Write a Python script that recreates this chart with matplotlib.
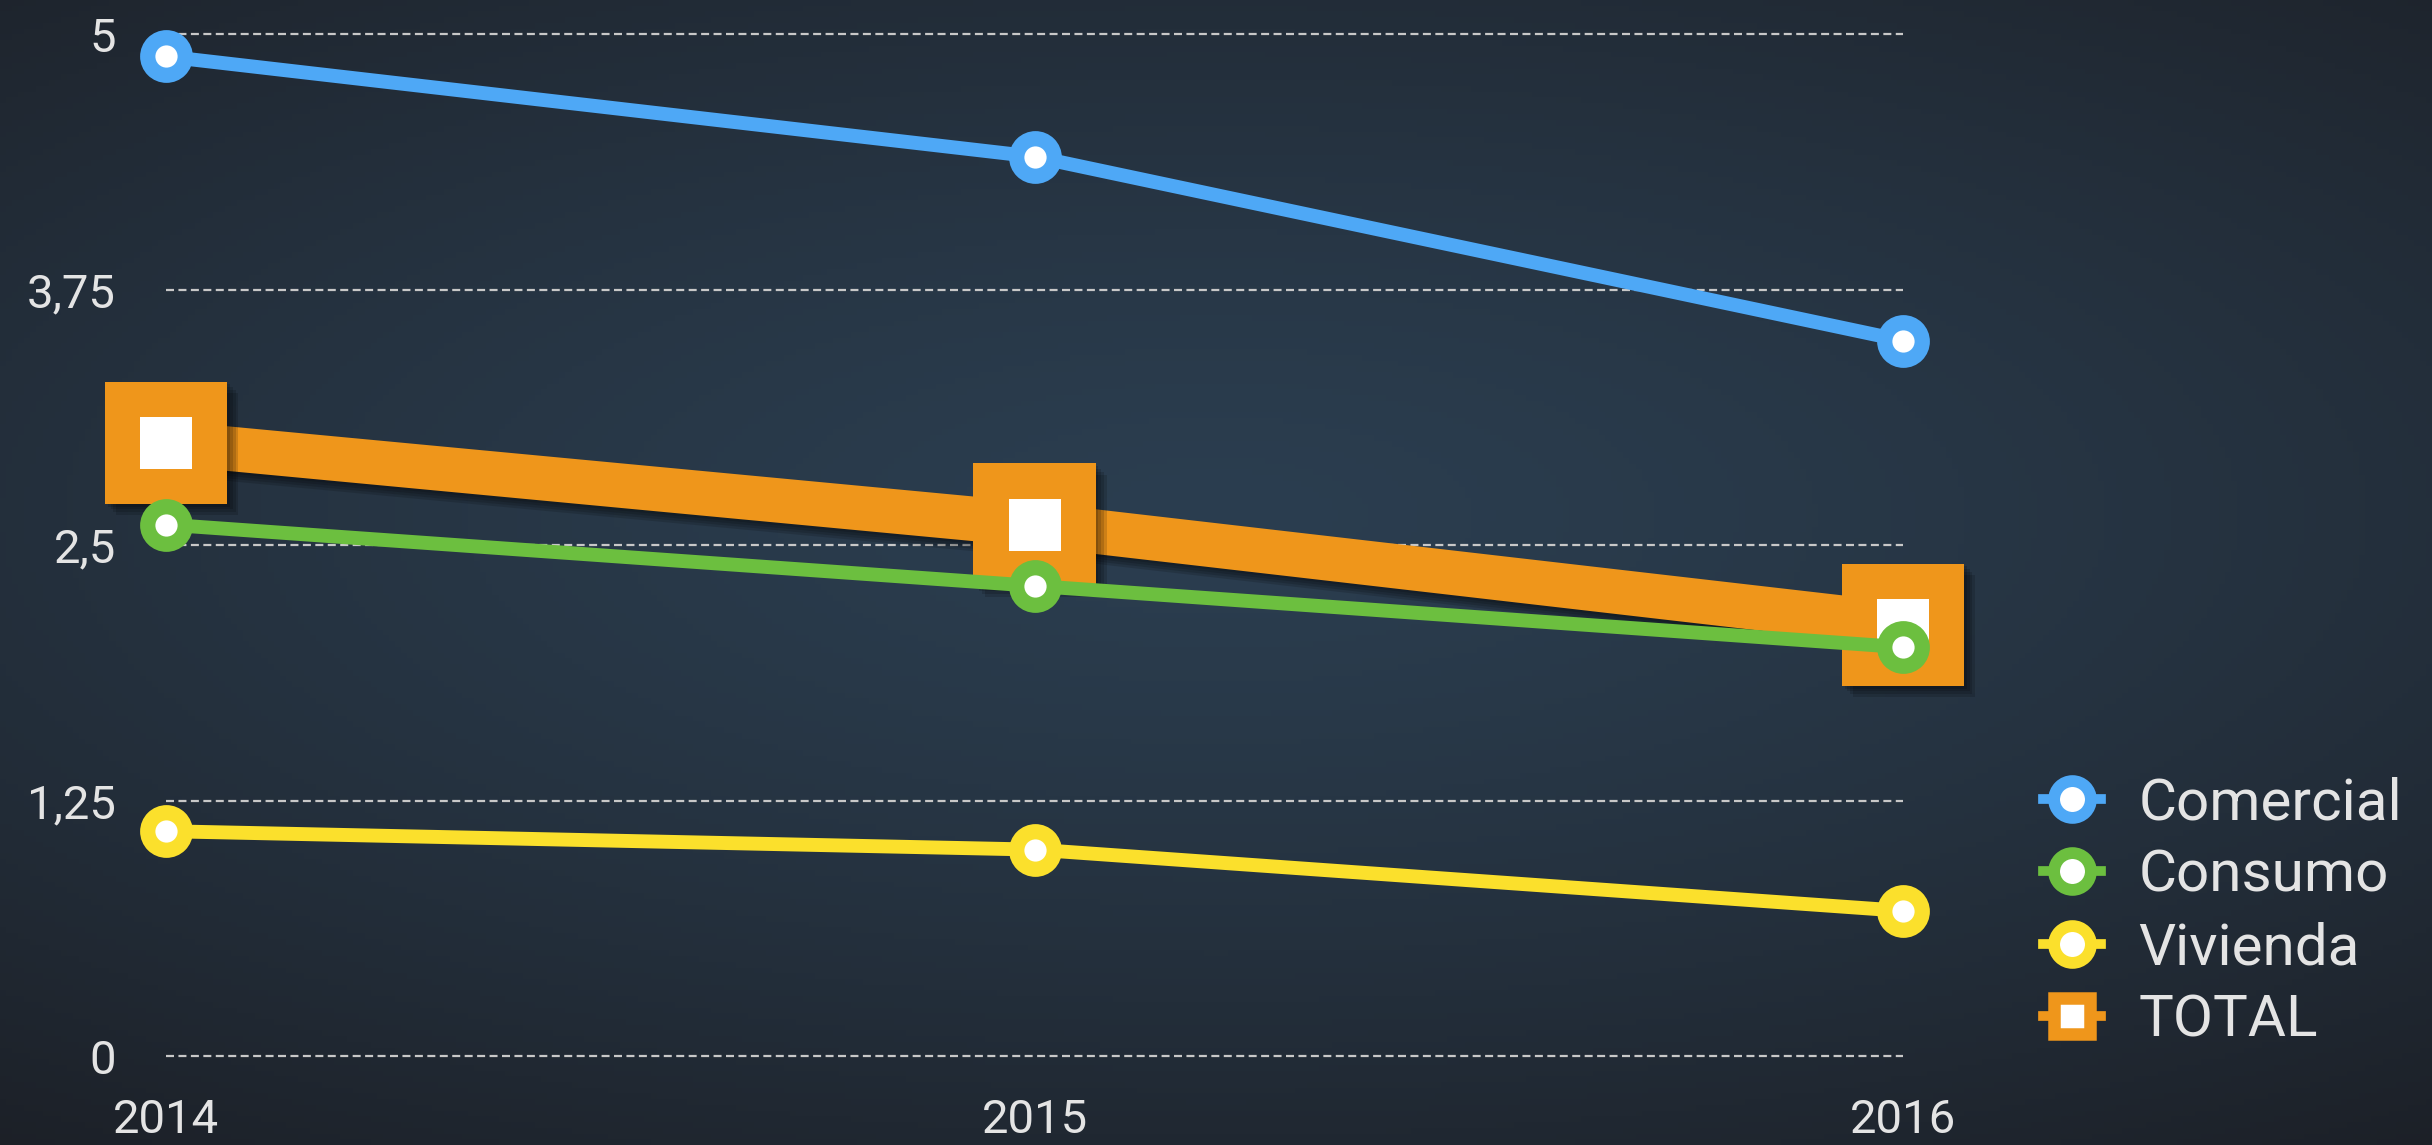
import numpy as np
import matplotlib.pyplot as plt
import matplotlib.patheffects as pe
from matplotlib.lines import Line2D

plt.rcParams['font.family'] = ['Roboto', 'DejaVu Sans']

# data
years = [2014, 2015, 2016]
comercial = [4.89, 4.40, 3.50]
consumo = [2.60, 2.30, 2.00]
vivienda = [1.10, 1.01, 0.71]
total = [3.00, 2.60, 2.11]
labels = ['Comercial', 'Consumo', 'Vivienda', 'TOTAL']
yticks = [0, 1.25, 2.5, 3.75, 5]
ytick_labels = ['0', '1,25', '2,5', '3,75', '5']

blue = '#4ea8f6'
green = '#6cbf3f'
yellow = '#fbe02c'
orange = '#ef961b'
txt = '#e4e4e4'

fig = plt.figure(figsize=(24.32, 11.45), dpi=100)

# background: dark vignette, bluer in the middle
bg = fig.add_axes([0, 0, 1, 1], zorder=-5)
gx, gy = np.meshgrid(np.linspace(-1, 1, 400), np.linspace(-1, 1, 200))
r = np.sqrt((gx * 0.85) ** 2 + ((gy + 0.1) * 1.05) ** 2)
t = np.clip(r / 1.45, 0, 1) ** 1.3
c_in = np.array([0x2b, 0x3e, 0x50]) / 255
c_out = np.array([0x1c, 0x20, 0x27]) / 255
img = c_in[None, None, :] * (1 - t[..., None]) + c_out[None, None, :] * t[..., None]
bg.imshow(img, aspect='auto', extent=[0, 1, 0, 1])
bg.axis('off')

ax = fig.add_axes([0.0683, 0.0777, 0.7142, 0.8926])
ax.set_facecolor('none')
ax.set_xlim(2014, 2016)
ax.set_ylim(0, 5)
for s in ax.spines.values():
    s.set_visible(False)

# dashed gridlines only across the data range
for v in yticks:
    ax.plot([2014, 2016], [v, v], color='#c8c8c8', lw=1.6, ls=(0, (3.6, 2)), zorder=1,
            clip_on=False)

# soft-ish shadow made of a few faint offset copies
line_shadow = [pe.SimpleLineShadow(offset=(k, -k), shadow_color='black', alpha=0.14)
               for k in (2, 4, 6, 8)] + [pe.Normal()]
sq_shadow = [pe.SimplePatchShadow(offset=(k, -k), shadow_rgbFace='black', alpha=0.14)
             for k in (2, 4, 6, 8)] + [pe.Normal()]

# TOTAL (drawn under the others)
ax.plot(years, total, color=orange, lw=32, solid_capstyle='butt', zorder=2,
        clip_on=False, path_effects=line_shadow)
ax.plot(years, total, ls='none', marker='s', ms=88, mfc=orange, mec=orange, mew=0,
        zorder=3, clip_on=False, path_effects=sq_shadow)
ax.plot(years, total, ls='none', marker='s', ms=37, mfc='white', mew=0, zorder=4,
        clip_on=False)

for vals, col in [(comercial, blue), (consumo, green), (vivienda, yellow)]:
    ax.plot(years, vals, color=col, lw=10, zorder=5, clip_on=False)
    ax.plot(years, vals, ls='none', marker='o', ms=38, mfc=col, mec=col, mew=0,
            zorder=6, clip_on=False)
    ax.plot(years, vals, ls='none', marker='o', ms=16, mfc='white', mew=0,
            zorder=7, clip_on=False)

ax.set_yticks(yticks)
ax.set_yticklabels(ytick_labels)
ax.set_xticks(years)
ax.set_xticklabels([str(y) for y in years])
ax.tick_params(axis='y', length=0, pad=36, labelsize=34, labelcolor=txt)
ax.tick_params(axis='x', length=0, pad=30, labelsize=34, labelcolor=txt)

# legend with small marker + line stubs
handles = []
for col, mk in [(blue, 'o'), (green, 'o'), (yellow, 'o'), (orange, 's')]:
    handles.append(Line2D([0], [0], color=col, lw=7, marker=mk, ms=26.5, mfc='white',
                          mec=col, mew=8.5 if mk == 'o' else 9))
leg = fig.legend(handles, labels, loc='center left', bbox_to_anchor=(0.840, 0.203),
                 frameon=False, fontsize=42, labelcolor=txt, handlelength=1.0,
                 handletextpad=0.64, labelspacing=0.3, borderpad=0, borderaxespad=0)

fig.savefig('out.png', dpi=100)
